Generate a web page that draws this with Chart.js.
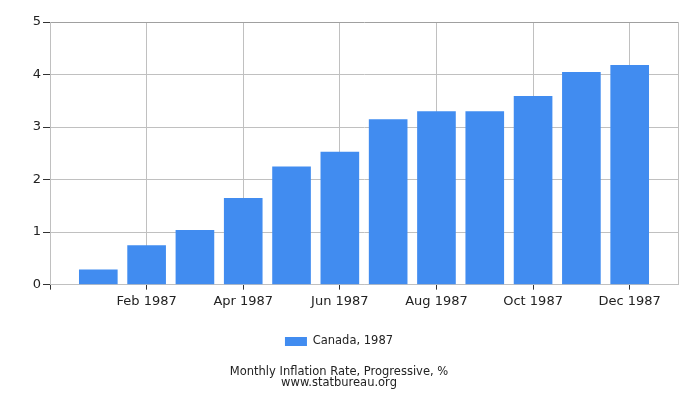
<!DOCTYPE html>
<html>
<head>
<meta charset="utf-8">
<script src="https://cdn.jsdelivr.net/npm/chart.js@4.4.0/dist/chart.umd.min.js"></script>
<style>
  html, body { margin: 0; padding: 0; background: #fff; }
  #wrap { width: 700px; height: 400px; }
</style>
</head>
<body>
<div id="wrap"><canvas id="chart"></canvas></div>
<script>
// monthly progressive inflation, Canada 1987 (%)
const months = ['Jan 1987', 'Feb 1987', 'Mar 1987', 'Apr 1987', 'May 1987', 'Jun 1987',
  'Jul 1987', 'Aug 1987', 'Sep 1987', 'Oct 1987', 'Nov 1987', 'Dec 1987'];
const values = [0.29, 0.75, 1.04, 1.65, 2.25, 2.53, 3.15, 3.30, 3.30, 3.59, 4.05, 4.18];
const yTicks = [0, 1, 2, 3, 4, 5];

// one empty slot each side, like the original axis
const labels = [''].concat(months, ['']);
const padded = [null].concat(values, [null]);
const last = labels.length - 1;

const shown = i => i > 0 && i < last && i % 2 === 0;
const font = { family: 'DejaVu Sans', size: 13 };

new Chart(document.getElementById('chart'), {
  type: 'bar',
  data: {
    labels: labels,
    datasets: [{
      label: 'Canada, 1987',
      data: padded,
      backgroundColor: '#418cf0',
      barPercentage: 0.8,
      categoryPercentage: 1,
    }],
  },
  options: {
    responsive: true,
    maintainAspectRatio: false,
    animation: false,
    layout: { padding: { top: 22, right: 22, left: 0, bottom: 0 } },
    scales: {
      x: {
        offset: false,
        grid: {
          offset: false,
          tickLength: 5,
          color: ctx => (shown(ctx.index) || ctx.index === last) ? '#c0c0c0' : 'rgba(0,0,0,0)',
          tickColor: ctx => (shown(ctx.index) || ctx.index === 0) ? '#333' : 'rgba(0,0,0,0)',
        },
        border: { color: '#c0c0c0' },
        ticks: {
          autoSkip: false,
          maxRotation: 0,
          padding: 4,
          color: '#222',
          font: font,
          callback: (v, i) => shown(i) ? labels[i] : '',
        },
        afterFit: s => { s.height = 41; },
      },
      y: {
        min: 0,
        max: 5,
        afterBuildTicks: s => { s.ticks = yTicks.map(v => ({ value: v })); },
        grid: {
          tickLength: 7,
          color: ctx => ctx.tick && ctx.tick.value === 5 ? '#a0a0a0' : '#c0c0c0',
          tickColor: '#333',
        },
        border: { color: '#c0c0c0' },
        ticks: { padding: 2, color: '#222', font: font },
        afterFit: s => { s.width = 50; },
      },
    },
    plugins: {
      legend: {
        position: 'bottom',
        labels: {
          boxWidth: 22,
          boxHeight: 9,
          padding: 10,
          color: '#222',
          font: { family: 'DejaVu Sans', size: 11.5 },
        },
      },
      title: {
        display: true,
        position: 'bottom',
        text: ['Monthly Inflation Rate, Progressive, %', 'www.statbureau.org'],
        color: '#222',
        font: { family: 'DejaVu Sans', size: 11.5, weight: 'normal', lineHeight: 0.95 },
        padding: { top: 9, bottom: 12 },
      },
      tooltip: { enabled: false },
    },
  },
});
</script>
</body>
</html>
